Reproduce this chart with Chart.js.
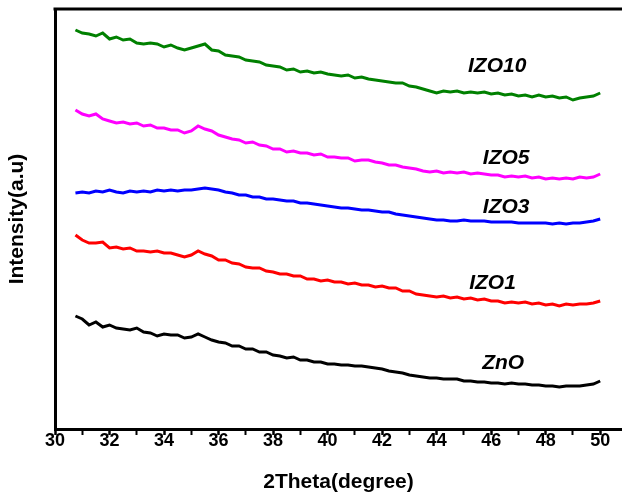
<!DOCTYPE html>
<html>
<head>
<meta charset="utf-8">
<script src="https://cdn.jsdelivr.net/npm/chart.js@4.4.0/dist/chart.umd.min.js"></script>
<style>
  html, body { margin: 0; padding: 0; background: #fff; }
  #wrap { width: 622px; height: 495px; }
</style>
</head>
<body>
<div id="wrap"><canvas id="xrdChart" width="622" height="495"></canvas></div>
<script>
// 2theta positions (degree)
let twoTheta = [30.75, 31, 31.25, 31.5, 31.75, 32, 32.25, 32.5, 32.75, 33, 33.25, 33.5, 33.75, 34, 34.25, 34.5,
  34.75, 35, 35.25, 35.5, 35.75, 36, 36.25, 36.5, 36.75, 37, 37.25, 37.5, 37.75, 38, 38.25, 38.5, 38.75, 39,
  39.25, 39.5, 39.75, 40, 40.25, 40.5, 40.75, 41, 41.25, 41.5, 41.75, 42, 42.25, 42.5, 42.75, 43, 43.25, 43.5,
  43.75, 44, 44.25, 44.5, 44.75, 45, 45.25, 45.5, 45.75, 46, 46.25, 46.5, 46.75, 47, 47.25, 47.5, 47.75, 48,
  48.25, 48.5, 48.75, 49, 49.25, 49.5, 49.75, 50];

// tick marks on the 2theta axis (labels on the even ones)
let xTicks = [30, 31, 32, 33, 34, 35, 36, 37, 38, 39, 40, 41, 42, 43, 44, 45, 46, 47, 48, 49, 50];
let xTickLabels = ['30', '', '32', '', '34', '', '36', '', '38', '', '40', '', '42', '', '44', '', '46', '', '48', '', '50'];

// intensities (a.u., stacked with offsets as in the figure)
let izo10 = [399, 396, 395, 393, 396, 390, 392, 389, 390, 386, 385, 386, 385, 382, 384, 381, 379, 381, 383, 385,
  379, 378, 374, 373, 372, 369, 368, 367, 364, 363, 362, 359, 360, 357, 358, 356, 357, 355, 354, 353, 354, 351,
  352, 350, 349, 348, 347, 346, 346, 343, 342, 340, 338, 336, 338, 337, 338, 336, 337, 336, 337, 335, 336, 334,
  335, 333, 334, 332, 334, 332, 333, 331, 332, 329, 331, 332, 333, 336];

let izo5 = [319, 315, 313, 315, 310, 308, 306, 307, 305, 306, 303, 304, 301, 301, 299, 299, 296, 298, 303, 300,
  298, 294, 292, 290, 289, 286, 287, 284, 283, 280, 280, 277, 278, 276, 276, 274, 275, 272, 272, 271, 271, 268,
  269, 269, 267, 266, 264, 264, 262, 261, 260, 258, 257, 258, 256, 257, 256, 257, 255, 256, 255, 254, 254, 252,
  253, 252, 253, 251, 252, 250, 251, 250, 251, 250, 252, 251, 252, 255];

let izo3 = [236, 237, 236, 238, 237, 239, 237, 236, 238, 237, 238, 237, 239, 238, 239, 238, 239, 239, 240, 241,
  240, 239, 237, 236, 234, 234, 232, 232, 230, 230, 229, 228, 228, 226, 226, 225, 224, 223, 222, 221, 221, 220,
  219, 219, 218, 217, 217, 215, 214, 213, 212, 211, 210, 209, 209, 208, 208, 209, 208, 208, 208, 207, 207, 207,
  207, 206, 206, 206, 206, 206, 205, 206, 205, 206, 206, 207, 208, 210];

let izo1 = [194, 189, 186, 186, 187, 181, 182, 180, 181, 178, 178, 177, 178, 176, 176, 174, 172, 174, 178, 175,
  173, 169, 169, 166, 165, 162, 161, 161, 158, 157, 155, 155, 153, 153, 150, 150, 148, 149, 147, 147, 145, 146,
  144, 144, 142, 143, 141, 141, 138, 138, 135, 134, 133, 132, 133, 131, 132, 130, 131, 129, 130, 128, 128, 126,
  127, 126, 127, 125, 126, 124, 125, 123, 125, 124, 125, 125, 126, 128];

let zno = [113, 110, 104, 107, 102, 104, 101, 100, 99, 101, 97, 96, 93, 95, 94, 94, 91, 92, 95, 92,
  89, 87, 86, 83, 83, 80, 80, 77, 77, 74, 73, 71, 72, 69, 69, 67, 67, 65, 65, 64, 64, 63,
  63, 62, 61, 60, 58, 57, 56, 54, 53, 52, 51, 51, 50, 50, 50, 48, 48, 47, 47, 46, 46, 45,
  46, 45, 45, 44, 44, 43, 43, 42, 43, 43, 43, 44, 45, 48];

let sampleNames = ['ZnO', 'IZO1', 'IZO3', 'IZO5', 'IZO10'];
let sampleColors = ['#000000', '#ff0000', '#0000ff', '#ff00ff', '#008000'];
let sampleSeries = [zno, izo1, izo3, izo5, izo10];

// where the sample names sit (data units)
let labelX = [46.44, 46.05, 46.55, 46.55, 46.22];
let labelY = [66, 146, 222, 271, 363];

function toPoints(ys) {
  return twoTheta.map((t, i) => ({ x: t, y: ys[i] }));
}

let curveSets = sampleSeries.map((ys, i) => ({
  label: sampleNames[i],
  data: toPoints(ys),
  borderColor: sampleColors[i],
  backgroundColor: sampleColors[i],
  borderWidth: 3,
  pointRadius: 0,
  tension: 0,
  fill: false,
}));

const sampleLabels = {
  id: 'sampleLabels',
  afterDatasetsDraw(chart) {
    const { ctx, scales } = chart;
    ctx.save();
    ctx.fillStyle = '#000';
    ctx.font = 'italic bold 21px "Liberation Sans", Arial, sans-serif';
    ctx.textAlign = 'center';
    ctx.textBaseline = 'middle';
    sampleNames.forEach((name, i) => {
      ctx.fillText(name, scales.x.getPixelForValue(labelX[i]), scales.y.getPixelForValue(labelY[i]));
    });
    ctx.restore();
  }
};

const topFrame = {
  id: 'topFrame',
  afterDraw(chart) {
    const { ctx, chartArea } = chart;
    ctx.save();
    ctx.strokeStyle = '#000';
    ctx.lineWidth = 3;
    ctx.beginPath();
    ctx.moveTo(chartArea.left - 1.5, chartArea.top);
    ctx.lineTo(chartArea.right, chartArea.top);
    ctx.stroke();
    ctx.restore();
  }
};

let xrdCtx = document.getElementById('xrdChart').getContext('2d');
let xrdChart = new Chart(xrdCtx, {
  type: 'line',
  data: { datasets: curveSets },
  options: {
    responsive: false,
    animation: false,
    devicePixelRatio: 1,
    layout: { padding: { top: 9, right: 0, left: 0, bottom: 0 } },
    plugins: {
      legend: { display: false },
      tooltip: { enabled: false },
    },
    scales: {
      x: {
        type: 'linear',
        min: 30,
        max: 50.8,
        afterFit(scale) { scale.height = 66; },
        afterBuildTicks(scale) { scale.ticks = xTicks.map(v => ({ value: v })); },
        ticks: {
          autoSkip: false,
          color: '#000',
          padding: -5,
          maxRotation: 0,
          font: { family: 'Liberation Sans', size: 18, weight: 'bold' },
          callback: (v) => xTickLabels[xTicks.indexOf(v)],
        },
        grid: {
          drawOnChartArea: false,
          drawTicks: true,
          tickLength: 6,
          tickColor: '#000',
          tickWidth: (c) => (c.index % 2 === 0 ? 2.5 : 2),
        },
        border: { display: true, color: '#000', width: 3 },
        title: {
          display: true,
          text: '2Theta(degree)',
          color: '#000',
          padding: { top: 4, bottom: 0 },
          font: { family: 'Liberation Sans', size: 21, weight: 'bold' },
        },
      },
      y: {
        min: 0,
        max: 420,
        afterFit(scale) { scale.width = 55; },
        ticks: { display: false },
        grid: { display: false, drawTicks: false },
        border: { display: true, color: '#000', width: 3 },
        title: {
          display: true,
          text: 'Intensity(a.u)',
          color: '#000',
          padding: { top: 5, bottom: 0 },
          font: { family: 'Liberation Sans', size: 21, weight: 'bold' },
        },
      },
    },
  },
  plugins: [sampleLabels, topFrame],
});
</script>
</body>
</html>
